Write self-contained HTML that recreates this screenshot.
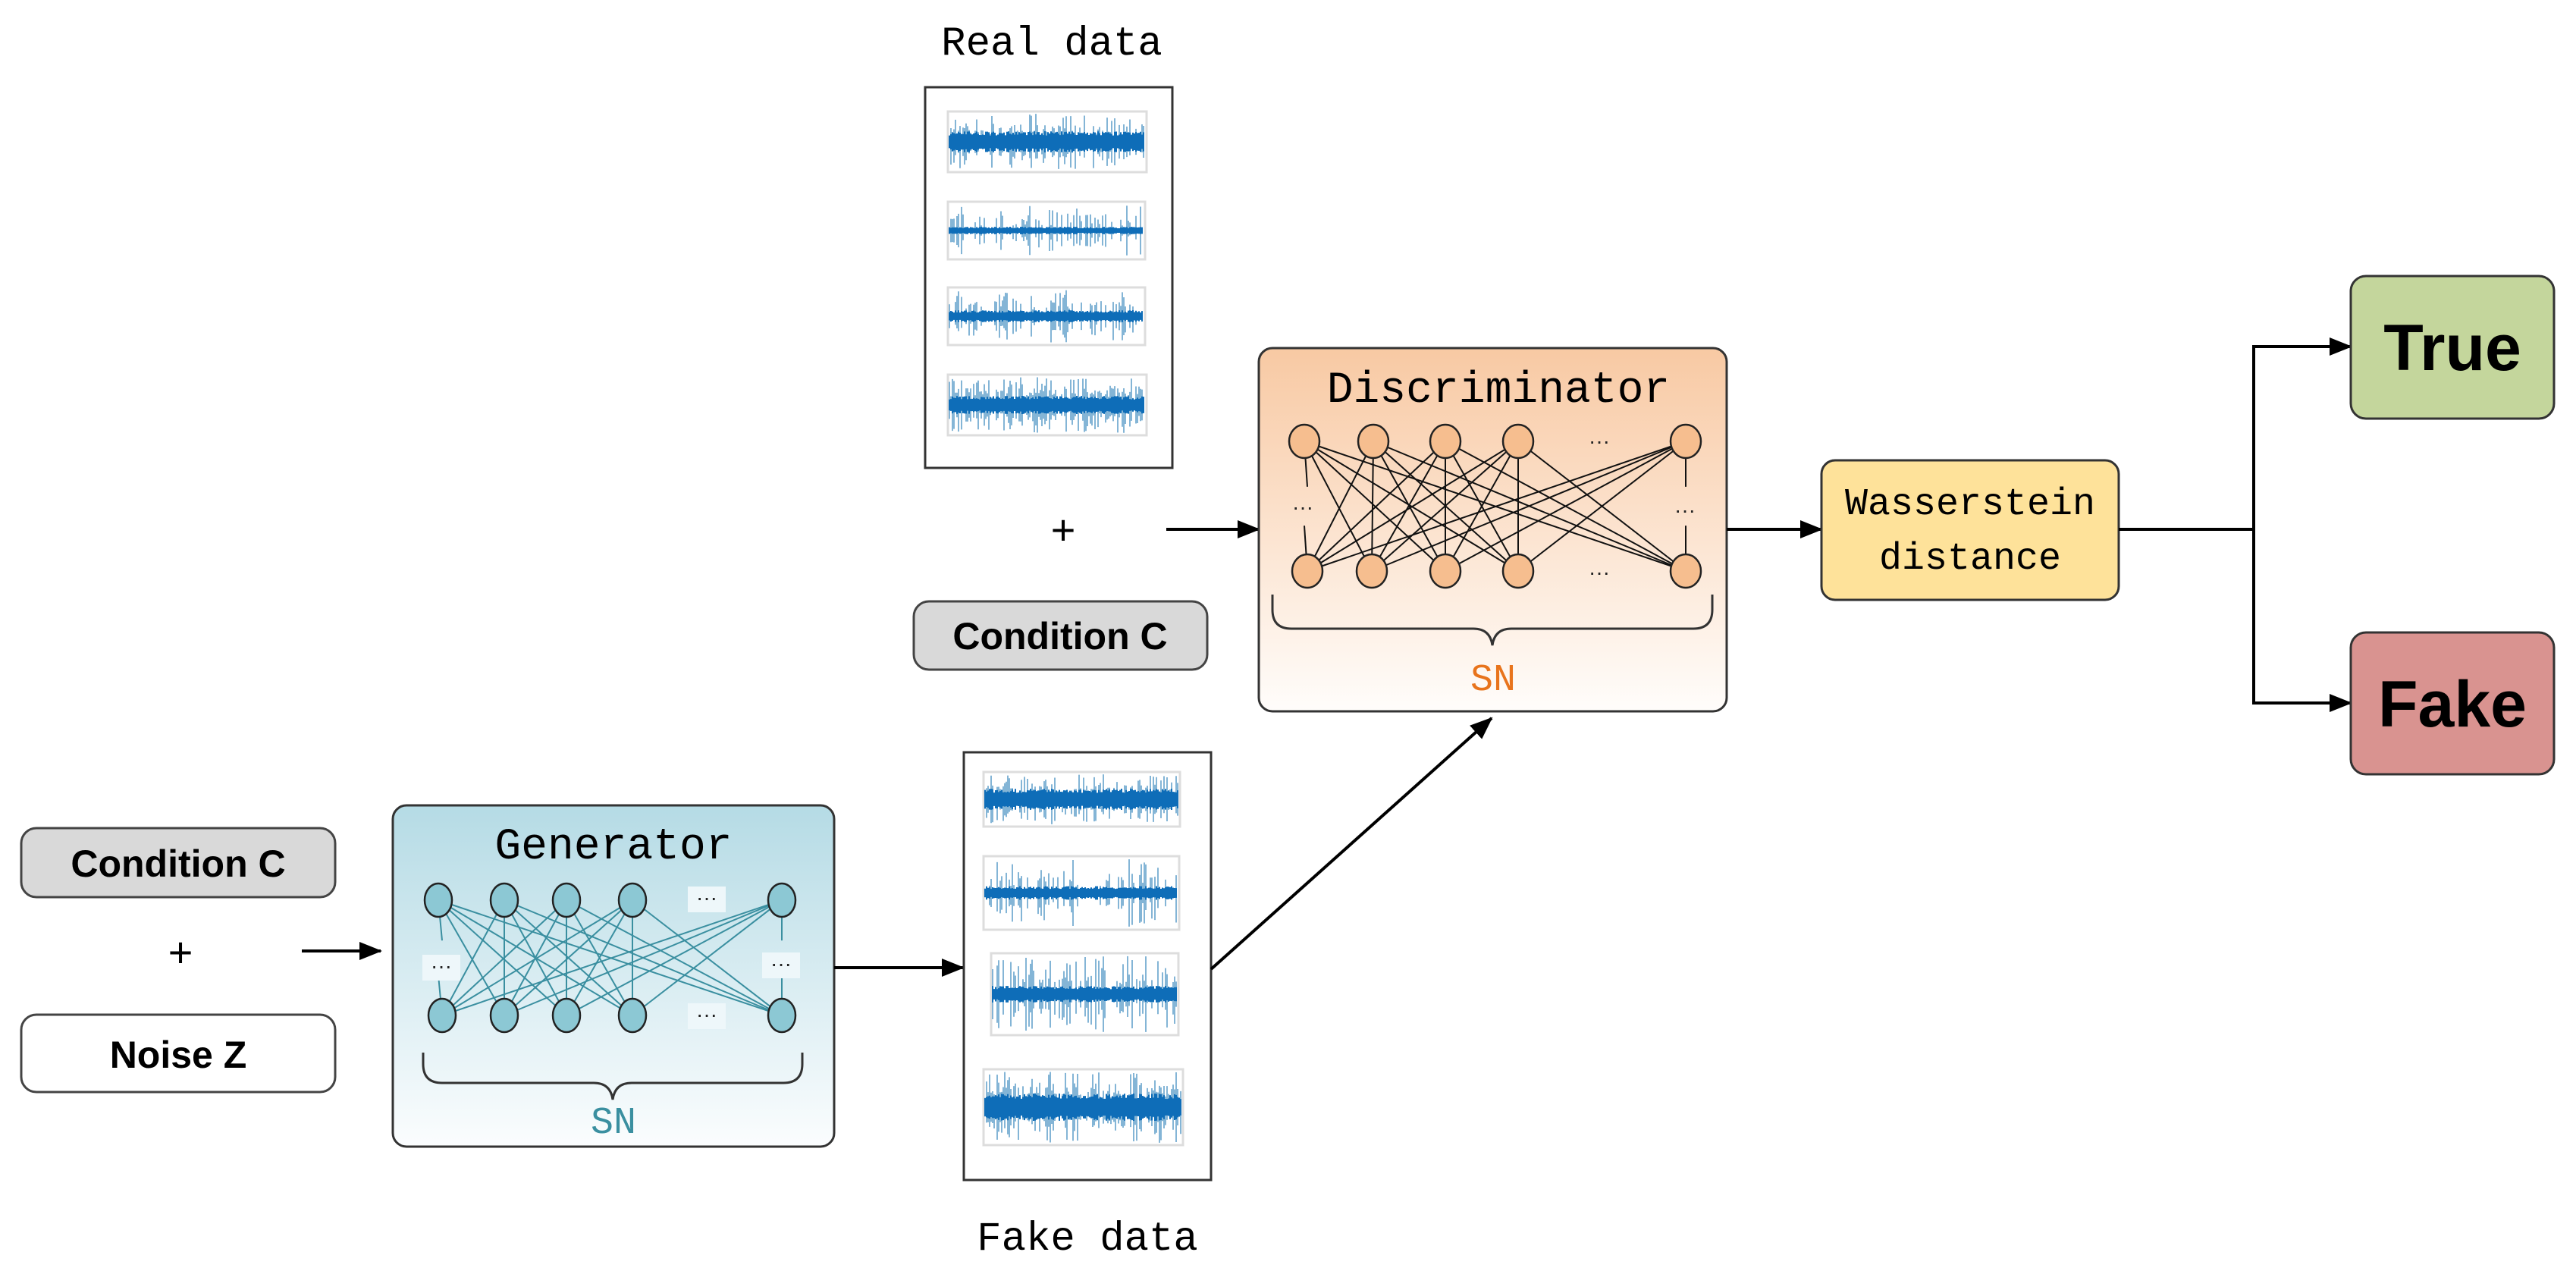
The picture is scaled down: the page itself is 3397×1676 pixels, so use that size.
<!DOCTYPE html>
<html><head><meta charset="utf-8">
<style>
html,body{margin:0;padding:0;background:#fff;}
svg{display:block;}
.mono{font-family:"Liberation Mono","Noto Serif CJK SC",monospace;}
.sans{font-family:"Liberation Sans",sans-serif;font-weight:bold;}
</style></head>
<body>
<svg id="s" width="3397" height="1676" viewBox="0 0 3397 1676" xmlns="http://www.w3.org/2000/svg">
<defs>
<linearGradient id="gd" x1="0" y1="0" x2="0" y2="1"><stop offset="0" stop-color="#f8c9a3"/><stop offset="1" stop-color="#fffdfb"/></linearGradient>
<linearGradient id="gg" x1="0" y1="0" x2="0" y2="1"><stop offset="0" stop-color="#b5dbe5"/><stop offset="1" stop-color="#fbfdfe"/></linearGradient>
<marker id="ab" markerWidth="30" markerHeight="30" refX="28" refY="15" orient="auto" markerUnits="userSpaceOnUse"><path d="M0,3 L30,15 L0,27 z" fill="#000"/></marker>
</defs>

<!-- Real data -->
<text x="1387" y="72" text-anchor="middle" class="mono" font-size="54">Real data</text>
<rect x="1220" y="115" width="326" height="502" fill="#fff" stroke="#333" stroke-width="3"/>
<g id="realw"></g>
<text x="1402" y="718" text-anchor="middle" class="mono" font-size="56">+</text>
<line x1="1538" y1="698" x2="1660" y2="698" stroke="#000" stroke-width="4" marker-end="url(#ab)"/>
<rect x="1205" y="793" width="387" height="90" rx="20" fill="#d9d9d9" stroke="#444" stroke-width="3"/>
<text x="1398" y="856" text-anchor="middle" class="sans" font-size="50">Condition C</text>

<!-- Discriminator -->
<rect x="1660" y="459" width="617" height="479" rx="18" fill="url(#gd)" stroke="#333" stroke-width="3"/>
<text x="1976" y="530" text-anchor="middle" class="mono" font-size="58">Discriminator</text>
<g id="dnet"></g>
<path d="M1678,784 v20 q0,25 25,25 h240 q22,0 25,22 q3,-22 25,-22 h240 q25,0 25,-25 v-20" fill="none" stroke="#333" stroke-width="3"/>
<text x="1969" y="910" text-anchor="middle" class="mono" font-size="50" fill="#e8741c">SN</text>
<line x1="2277" y1="698" x2="2402" y2="698" stroke="#000" stroke-width="4" marker-end="url(#ab)"/>

<!-- Wasserstein -->
<rect x="2402" y="607" width="392" height="184" rx="18" fill="#fee29a" stroke="#333" stroke-width="3"/>
<text x="2598" y="678" text-anchor="middle" class="mono" font-size="50">Wasserstein</text>
<text x="2598" y="750" text-anchor="middle" class="mono" font-size="50">distance</text>
<polyline points="2794,698 2972,698" fill="none" stroke="#000" stroke-width="4"/>
<polyline points="2972,457 2972,927" fill="none" stroke="#000" stroke-width="4"/>
<line x1="2970" y1="457" x2="3100" y2="457" stroke="#000" stroke-width="4" marker-end="url(#ab)"/>
<line x1="2970" y1="927" x2="3100" y2="927" stroke="#000" stroke-width="4" marker-end="url(#ab)"/>
<rect x="3100" y="364" width="268" height="188" rx="20" fill="#c4d69c" stroke="#333" stroke-width="3"/>
<text x="3234" y="488" text-anchor="middle" class="sans" font-size="86">True</text>
<rect x="3100" y="834" width="268" height="187" rx="20" fill="#d99390" stroke="#333" stroke-width="3"/>
<text x="3234" y="958" text-anchor="middle" class="sans" font-size="86">Fake</text>

<!-- Left inputs -->
<rect x="28" y="1092" width="414" height="91" rx="20" fill="#d9d9d9" stroke="#444" stroke-width="3"/>
<text x="235" y="1156" text-anchor="middle" class="sans" font-size="50">Condition C</text>
<text x="238" y="1275" text-anchor="middle" class="mono" font-size="56">+</text>
<rect x="28" y="1338" width="414" height="102" rx="20" fill="#fff" stroke="#444" stroke-width="3"/>
<text x="235" y="1408" text-anchor="middle" class="sans" font-size="50">Noise Z</text>
<line x1="398" y1="1254" x2="502" y2="1254" stroke="#000" stroke-width="4" marker-end="url(#ab)"/>

<!-- Generator -->
<rect x="518" y="1062" width="582" height="450" rx="18" fill="url(#gg)" stroke="#333" stroke-width="3"/>
<text x="809" y="1132" text-anchor="middle" class="mono" font-size="58">Generator</text>
<g id="gnet"></g>
<path d="M558,1388 v15 q0,25 25,25 h200 q22,0 25,22 q3,-22 25,-22 h200 q25,0 25,-25 v-15" fill="none" stroke="#333" stroke-width="3"/>
<text x="809" y="1494" text-anchor="middle" class="mono" font-size="50" fill="#3a8fa0">SN</text>
<line x1="1100" y1="1276" x2="1270" y2="1276" stroke="#000" stroke-width="4" marker-end="url(#ab)"/>

<!-- Fake data -->
<rect x="1271" y="992" width="326" height="564" fill="#fff" stroke="#333" stroke-width="3"/>
<g id="fakew"></g>
<text x="1434" y="1648" text-anchor="middle" class="mono" font-size="54">Fake data</text>
<line x1="1597" y1="1278" x2="1967" y2="947" stroke="#000" stroke-width="4" marker-end="url(#ab)"/>
</svg>
<script>
(function(){
var NS="http://www.w3.org/2000/svg";
function el(p,t,a){var e=document.createElementNS(NS,t);for(var k in a)e.setAttribute(k,a[k]);p.appendChild(e);return e;}
var seed=7;function r(){seed=(seed*16807)%2147483647;return seed/2147483647;}
function wave(g,x,y,w,h,band,spike){
 el(g,"rect",{x:x,y:y,width:w,height:h,fill:"#fff",stroke:"#ddd","stroke-width":3});
 var cy=y+h/2,d="",d2="";
 for(var i=0;i<w-4;i+=2){
  var xx=x+2+i;
  var a=band*(0.6+0.4*r());
  d+="M"+xx+","+(cy-a)+"V"+(cy+a);
  if(r()<spike){var s=(h/2-3)*(0.3+0.7*r());d2+="M"+xx+","+(cy-s*(r()<0.5?1:0.6))+"V"+(cy+s*(r()<0.5?1:0.6));}
 }
 el(g,"path",{d:d2,stroke:"#6fa8cf","stroke-width":2,fill:"none",opacity:0.85});
 el(g,"path",{d:d,stroke:"#0e6db8","stroke-width":2,fill:"none"});
}
var rw=document.getElementById("realw");
wave(rw,1250,147,262,80,14,0.75);
wave(rw,1250,266,260,76,5,0.4);
wave(rw,1250,379,260,76,8,0.5);
wave(rw,1250,494,262,80,12,0.85);
var fw=document.getElementById("fakew");
wave(fw,1297,1018,259,72,14,0.75);
wave(fw,1297,1129,258,97,9,0.45);
wave(fw,1307,1257,247,108,11,0.5);
wave(fw,1297,1410,263,100,18,0.85);
function net(id,top,bot,ty,by,fill,lc,dots,rx,ry,dotcol){
 var g=document.getElementById(id);
 for(var i=0;i<top.length;i++)for(var j=0;j<bot.length;j++){
  if(i==j&&(i==0||i==top.length-1)) continue;
  el(g,"line",{x1:top[i],y1:ty,x2:bot[j],y2:by,stroke:lc,"stroke-width":2});
 }
 [0,top.length-1].forEach(function(k){
  el(g,"line",{x1:top[k],y1:ty,x2:bot[k],y2:ty+(by-ty)*0.35,stroke:lc,"stroke-width":2});
  el(g,"line",{x1:top[k],y1:ty+(by-ty)*0.65,x2:bot[k],y2:by,stroke:lc,"stroke-width":2});
 });
 dots.forEach(function(p){el(g,"rect",{x:p[0]-25,y:p[1]-18,width:50,height:34,fill:dotcol});
  var t=el(g,"text",{x:p[0],y:p[1]+6,"text-anchor":"middle","font-family":"Liberation Sans,sans-serif","font-size":28,fill:"#222"});t.textContent="···";});
 top.forEach(function(x){el(g,"ellipse",{cx:x,cy:ty,rx:rx,ry:ry,fill:fill,stroke:"#222","stroke-width":2.5});});
 bot.forEach(function(x){el(g,"ellipse",{cx:x,cy:by,rx:rx,ry:ry,fill:fill,stroke:"#222","stroke-width":2.5});});
}
net("dnet",[1720,1811,1906,2002,2223],[1724,1809,1906,2002,2223],582,753,"#f6be8f","#111",[[2109,585],[2109,758],[1718,672],[2222,676]],20,22,"rgba(0,0,0,0)");
net("gnet",[578,665,747,834,1031],[583,665,747,834,1031],1187,1339,"#8cc8d4","#3a8fa0",[[932,1187],[932,1341],[582,1277],[1030,1274]],18,22,"#eef7fa");
})();
</script>
</body></html>
